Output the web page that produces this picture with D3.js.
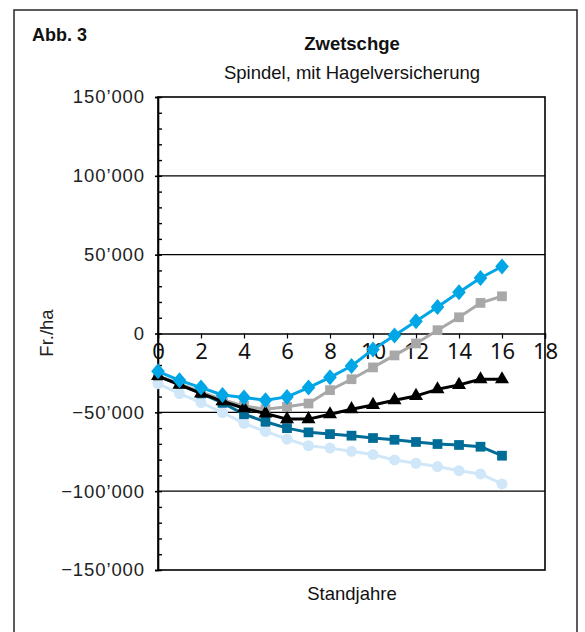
<!DOCTYPE html>
<html>
<head>
<meta charset="utf-8">
<script src="https://cdn.jsdelivr.net/npm/d3@7"></script>
<style>
  html, body { margin: 0; padding: 0; background: #fff; }
  svg { display: block; }
</style>
</head>
<body>
<svg id="chart" width="585" height="632"></svg>
<script>
// Standjahre 0..16
const years = [0,1,2,3,4,5,6,7,8,9,10,11,12,13,14,15,16];

// Kumulierte Ergebnisse (Fr./ha) je Variante
const seriesCyan  = [-24000,-29700,-34300,-39000,-40600,-42300,-40200,-34300,-27800,-20600,-10100,-1300,7800,16800,26100,35200,42500];
const seriesGray  = [-27000,-32000,-37000,-42000,-45900,-48000,-46500,-44400,-35900,-29000,-21500,-13900,-6300,2100,10300,19400,23600];
const seriesBlack = [-27000,-32500,-38000,-43000,-47400,-50700,-54300,-54300,-51200,-48000,-45300,-42300,-39600,-35400,-32600,-29000,-29000];
const seriesTeal  = [-27000,-32000,-38000,-44000,-51200,-56000,-60000,-62700,-63800,-64800,-66300,-67400,-68800,-70100,-70700,-71800,-77500];
const seriesLight = [-31800,-38100,-43800,-50100,-57000,-62100,-67000,-71200,-72700,-74700,-76800,-80200,-82300,-84400,-87000,-89100,-95400];

const xTicks = [0,2,4,6,8,10,12,14,16,18];
const yTicks = [-150000,-100000,-50000,0,50000,100000,150000];
const yMinorTicks = d3.range(-150000, 150001, 10000);

const titleText = "Zwetschge";
const subtitleText = "Spindel, mit Hagelversicherung";
const figLabel = "Abb. 3";
const yTitle = "Fr./ha";
const xTitle = "Standjahre";

const svg = d3.select("#chart");
const textFont = "'Liberation Sans', Arial, sans-serif";
const tickFont = "'Noto Sans', 'Open Sans', sans-serif";

const plot = {left: 158, right: 545, top: 97, bottom: 570};
const x = d3.scaleLinear().domain([0, 18]).range([plot.left, plot.right]);
const y = d3.scaleLinear().domain([-150000, 150000]).range([plot.bottom, plot.top]);

const loc = d3.formatLocale({decimal: ".", thousands: "\u2019", grouping: [3], currency: ["", ""], minus: "\u2212"});
const fmt = loc.format(",");

// wider diamond marker (d3's built-in diamond is very slim)
const wideDiamond = {
  draw(ctx, size) {
    const w = Math.sqrt(size) * 0.68, h = Math.sqrt(size) * 0.8;
    ctx.moveTo(0, -h); ctx.lineTo(w, 0); ctx.lineTo(0, h); ctx.lineTo(-w, 0); ctx.closePath();
  }
};

// outer frame
svg.append("rect")
  .attr("x", 14).attr("y", 10).attr("width", 563).attr("height", 700)
  .attr("fill", "none").attr("stroke", "#333").attr("stroke-width", 1.6);

// headings
svg.append("text").attr("x", 32).attr("y", 41)
  .attr("font-family", textFont).attr("font-size", 18).attr("font-weight", "bold")
  .attr("fill", "#111").text(figLabel);
svg.append("text").attr("x", 352).attr("y", 50).attr("text-anchor", "middle")
  .attr("font-family", textFont).attr("font-size", 18.5).attr("font-weight", "bold")
  .attr("fill", "#111").text(titleText);
svg.append("text").attr("x", 352).attr("y", 79).attr("text-anchor", "middle")
  .attr("font-family", textFont).attr("font-size", 18.5)
  .attr("fill", "#111").text(subtitleText);

// horizontal grid lines
svg.append("g").selectAll("line")
  .data(yTicks.filter(v => v !== 0 && Math.abs(v) !== 150000))
  .join("line")
  .attr("x1", plot.left).attr("x2", plot.right)
  .attr("y1", d => y(d)).attr("y2", d => y(d))
  .attr("stroke", "#000").attr("stroke-width", 1.2);

// plot border
svg.append("rect")
  .attr("x", plot.left).attr("y", plot.top)
  .attr("width", plot.right - plot.left).attr("height", plot.bottom - plot.top)
  .attr("fill", "none").attr("stroke", "#000").attr("stroke-width", 1.6);

// y axis: labels and major ticks
const yAxis = svg.append("g").attr("transform", `translate(${plot.left},0)`)
  .call(d3.axisLeft(y).tickValues(yTicks).tickFormat(fmt).tickSize(3).tickPadding(10));
yAxis.select(".domain").attr("stroke", "#000").attr("stroke-width", 1.6);
yAxis.selectAll(".tick line").attr("stroke", "#000").attr("stroke-width", 1.6);
yAxis.selectAll("text")
  .attr("font-family", textFont).attr("font-size", 18.5)
  .attr("letter-spacing", "0.9px").attr("fill", "#222");

// minor ticks inside the plot
const yMinor = svg.append("g").attr("transform", `translate(${plot.left},0)`)
  .call(d3.axisRight(y).tickValues(yMinorTicks).tickFormat("").tickSize(4));
yMinor.select(".domain").remove();
yMinor.selectAll(".tick line").attr("stroke", "#000").attr("stroke-width", 1.4);

// x axis on the zero line
const xAxis = svg.append("g").attr("transform", `translate(0,${y(0)})`)
  .call(d3.axisBottom(x).tickValues(xTicks).tickFormat(d3.format("d")).tickSize(5).tickPadding(5));
xAxis.select(".domain").attr("stroke", "#000").attr("stroke-width", 1.4);
xAxis.selectAll(".tick line").attr("stroke", "#000").attr("stroke-width", 1.2);
xAxis.selectAll("text")
  .attr("font-family", tickFont).attr("font-size", 22).attr("fill", "#111");

// axis titles
svg.append("text")
  .attr("transform", `translate(53,333) rotate(-90)`)
  .attr("text-anchor", "middle")
  .attr("font-family", textFont).attr("font-size", 18.5).attr("fill", "#222")
  .text(yTitle);
svg.append("text").attr("x", 352).attr("y", 600).attr("text-anchor", "middle")
  .attr("font-family", textFont).attr("font-size", 18.5).attr("fill", "#111")
  .text(xTitle);

// data series
const series = [
  {values: seriesLight, color: "#CFE7F8", shape: d3.symbolCircle, size: 95},
  {values: seriesTeal,  color: "#006C98", shape: d3.symbolSquare, size: 95},
  {values: seriesGray,  color: "#A8A8A8", shape: d3.symbolSquare, size: 95},
  {values: seriesBlack, color: "#000000", shape: d3.symbolTriangle, size: 85},
  {values: seriesCyan,  color: "#00A6E6", shape: wideDiamond, size: 100}
];

const line = d3.line().x((d, i) => x(years[i])).y(d => y(d));

series.forEach(s => {
  const g = svg.append("g");
  g.append("path").attr("d", line(s.values))
    .attr("fill", "none").attr("stroke", s.color).attr("stroke-width", 3)
    .attr("stroke-linejoin", "round");
  g.selectAll("path.m").data(s.values).join("path")
    .attr("class", "m")
    .attr("d", d3.symbol().type(s.shape).size(s.size))
    .attr("transform", (d, i) => `translate(${x(years[i])},${y(d)})`)
    .attr("fill", s.color);
});
</script>
</body>
</html>
